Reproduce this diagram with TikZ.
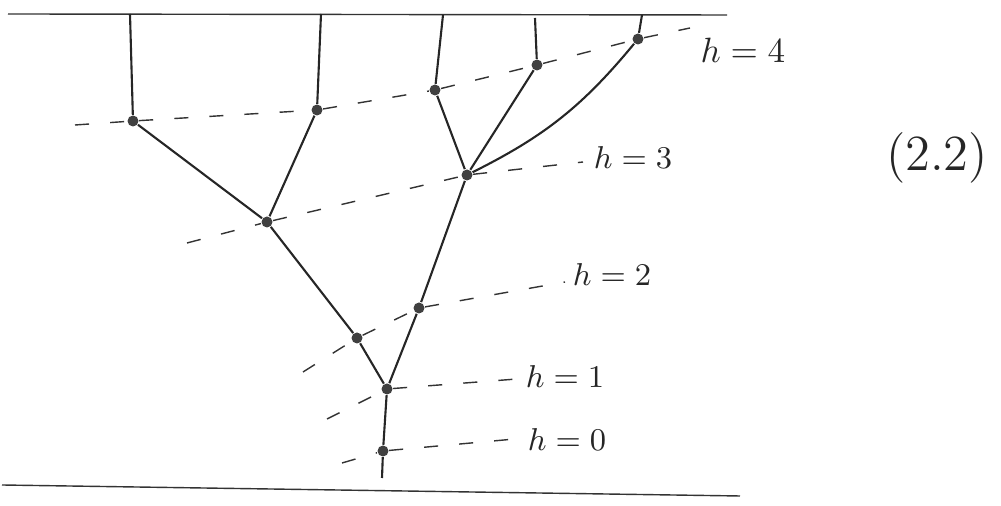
\documentclass[tikz,border=0pt]{standalone}
\usepackage{tikz}
\usetikzlibrary{positioning}

\begin{document}
\begin{tikzpicture}[
        vdot/.style = {circle, fill=black!75, minimum size=1.1mm, inner sep=0pt},
        branch/.style = {semithick, black!85},
        levelline/.style = {thin, black!80, dash pattern=on 4pt off 6pt},
        wall/.style = {thin, black!80},
        hlabel/.style = {font=\small, text=black!85, inner sep=0pt},
        hlabelbig/.style = {font=\normalsize, text=black!85, inner sep=0pt},
        eqlabel/.style = {font=\Large, text=black!85, inner sep=0pt}
    ]
    \useasboundingbox (0,0) rectangle (10.01,-5.06);

    % top and bottom walls
    \coordinate (topL) at (0.08,-0.14);
    \coordinate (topR) at (7.27,-0.15);
    \coordinate (botL) at (0.02,-4.85);
    \coordinate (botR) at (7.40,-4.96);
    \draw[wall] (topL) -- (topR);
    \draw[wall] (botL) -- (botR);

    % vertices
    \node [vdot] (n0)  at (3.83,-4.51) {};
    \node [vdot] (n1)  at (3.87,-3.89) {};
    \node [vdot] (nl2) at (3.57,-3.38) {};
    \node [vdot] (nr2) at (4.19,-3.08) {};
    \node [vdot] (nl3) at (2.67,-2.22) {};
    \node [vdot] (nr3) at (4.67,-1.75) {};
    \node [vdot] (a4)  at (1.33,-1.21) {};
    \node [vdot] (b4)  at (3.17,-1.10) {};
    \node [vdot] (c4)  at (4.35,-0.90) {};
    \node [vdot] (d4)  at (5.37,-0.65) {};
    \node [vdot] (e4)  at (6.38,-0.39) {};

    % ends on the walls
    \coordinate (foot) at (3.82,-4.78);
    \coordinate (a4top) at (1.30,-0.14);
    \coordinate (b4top) at (3.21,-0.14);
    \coordinate (c4top) at (4.43,-0.15);
    \coordinate (d4top) at (5.35,-0.18);
    \coordinate (e4top) at (6.42,-0.15);

    % tree
    \draw[branch] (foot) -- (n0) -- (n1);
    \draw[branch] (n1) -- (nl2) -- (nl3);
    \draw[branch] (n1) -- (nr2) -- (nr3);
    \draw[branch] (nl3) -- (a4) -- (a4top);
    \draw[branch] (nl3) -- (b4) -- (b4top);
    \draw[branch] (nr3) -- (c4) -- (c4top);
    \draw[branch] (nr3) -- (d4) -- (d4top);
    \draw[branch] (nr3) to[bend right=12] (e4);
    \draw[branch] (e4) -- (e4top);

    % level lines
    \coordinate (h4s) at (0.75,-1.25);
    \coordinate (h4e) at (6.90,-0.28);
    \coordinate (h3s) at (1.87,-2.43);
    \coordinate (h3e) at (5.83,-1.62);
    \coordinate (h2s) at (3.03,-3.72);
    \coordinate (h2e) at (5.65,-2.82);
    \coordinate (h1s) at (3.27,-4.19);
    \coordinate (h1e) at (5.30,-3.78);
    \coordinate (h0s) at (3.42,-4.63);
    \coordinate (h0e) at (5.15,-4.39);
    \draw[levelline] (h4s) -- (a4) -- (b4) -- (c4) -- (d4) -- (e4) -- (h4e);
    \draw[levelline] (h3s) -- (nl3) -- (nr3) -- (h3e);
    \draw[levelline] (h2s) -- (nl2) -- (nr2) -- (h2e);
    \draw[levelline] (h1s) -- (n1) -- (h1e);
    \draw[levelline] (h0s) -- (n0) -- (h0e);

    % labels
    \node [hlabelbig] (lab4) at (7.43,-0.50) {$h=4$};
    \node [hlabel] (lab3) at (6.33,-1.58) {$h=3$};
    \node [hlabel] (lab2) at (6.12,-2.75) {$h=2$};
    \node [hlabel] (lab1) at (5.65,-3.77) {$h=1$};
    \node [hlabel] (lab0) at (5.67,-4.40) {$h=0$};
    \node [eqlabel] (eqno) at (9.37,-1.58) {$(2.2)$};
\end{tikzpicture}
\end{document}
